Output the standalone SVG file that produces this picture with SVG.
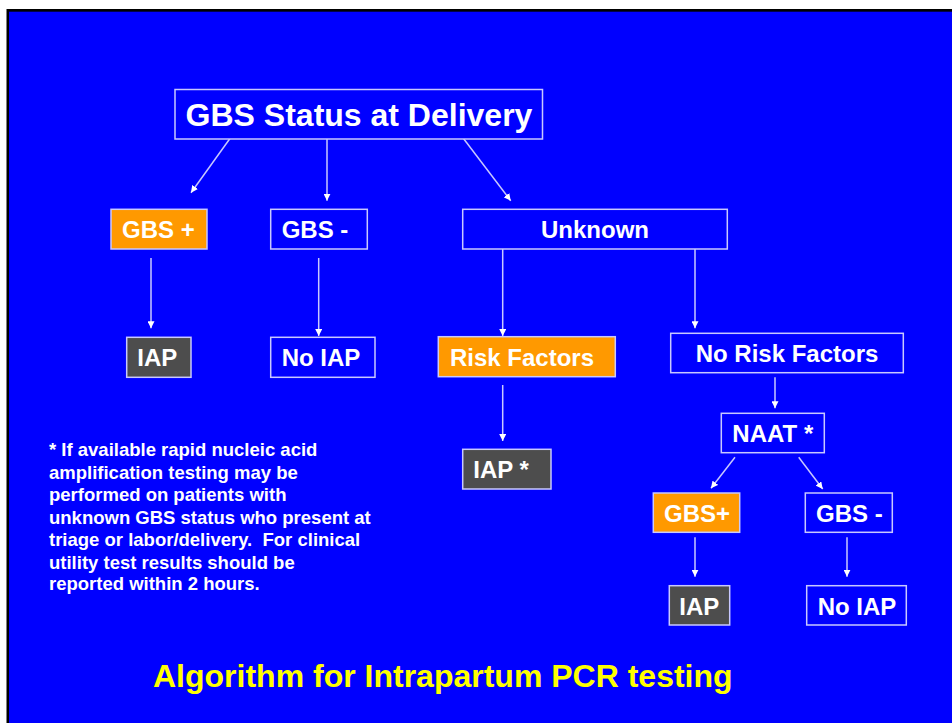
<svg xmlns="http://www.w3.org/2000/svg" width="952" height="723" viewBox="0 0 952 723">
<defs>
<style>
.bx{stroke:#C8C8FF;stroke-width:1.5}
.bl{fill:#0000FF}
.or{fill:#FF9900}
.gr{fill:#4D4D4D}
.t{font-family:"Liberation Sans",Arial,sans-serif;font-weight:bold;fill:#FFFFFF;font-size:24px}
.c{text-anchor:middle}
.fn{font-family:"Liberation Sans",Arial,sans-serif;font-weight:bold;fill:#FFFFFF;font-size:18.5px;white-space:pre}
.ln{stroke:#C8C8FF;stroke-width:1.5;fill:none;marker-end:url(#ah)}
</style>
<marker id="ah" viewBox="0 0 10 10" refX="10" refY="5" markerWidth="7" markerHeight="7" markerUnits="userSpaceOnUse" orient="auto">
<path d="M0,0 L10,5 L0,10 z" fill="#FFFFFF"/>
</marker>
</defs>
<rect x="0" y="0" width="952" height="723" fill="#FFFFFF"/>
<rect x="6.5" y="9" width="960" height="730" fill="#000000"/>
<rect x="9" y="11.7" width="960" height="730" fill="#0000FF"/>

<g id="connectors">
<line class="ln" x1="230.7" y1="137.5" x2="191" y2="192.7"/>
<line class="ln" x1="327" y1="137.5" x2="327" y2="200.7"/>
<line class="ln" x1="462.7" y1="137.5" x2="510.7" y2="200.7"/>
<line class="ln" x1="151" y1="258" x2="151" y2="328.3"/>
<line class="ln" x1="318.7" y1="258" x2="318.7" y2="336"/>
<line class="ln" x1="502.7" y1="249" x2="502.7" y2="336"/>
<line class="ln" x1="695" y1="249" x2="695" y2="328.3"/>
<line class="ln" x1="502.7" y1="385" x2="502.7" y2="441"/>
<line class="ln" x1="775" y1="377.3" x2="775" y2="408.3"/>
<line class="ln" x1="735" y1="457.3" x2="711" y2="488.3"/>
<line class="ln" x1="798.7" y1="457.3" x2="822.7" y2="489"/>
<line class="ln" x1="695" y1="537.3" x2="695" y2="576.7"/>
<line class="ln" x1="847" y1="537.3" x2="847" y2="576.7"/>
</g>

<g id="n-title">
<rect class="bx bl" x="175" y="89.5" width="367.5" height="49.5"/>
<text class="t c" x="359" y="125.7" style="font-size:32px">GBS Status at Delivery</text>
</g>
<g id="n-gbspos">
<rect class="bx or" x="111" y="209.3" width="96" height="39.7"/>
<text class="t" x="122" y="237.5">GBS +</text>
</g>
<g id="n-gbsneg">
<rect class="bx bl" x="270.7" y="209.3" width="96.6" height="39.7"/>
<text class="t" x="281.7" y="237.5">GBS -</text>
</g>
<g id="n-unknown">
<rect class="bx bl" x="462.7" y="209.3" width="264.6" height="39.7"/>
<text class="t c" x="595" y="237.5">Unknown</text>
</g>
<g id="n-iap1">
<rect class="bx gr" x="126.7" y="337.3" width="64.3" height="40"/>
<text class="t" x="137.3" y="366.3">IAP</text>
</g>
<g id="n-noiap1">
<rect class="bx bl" x="270.7" y="337.3" width="104.3" height="40"/>
<text class="t" x="281.7" y="366.3">No IAP</text>
</g>
<g id="n-risk">
<rect class="bx or" x="438.3" y="336.7" width="177" height="40"/>
<text class="t" x="450" y="365.5">Risk Factors</text>
</g>
<g id="n-norisk">
<rect class="bx bl" x="670.7" y="333.3" width="232.6" height="39.4"/>
<text class="t c" x="787" y="361.7">No Risk Factors</text>
</g>
<g id="n-iapstar">
<rect class="bx gr" x="462.7" y="449.3" width="88.3" height="39.7"/>
<text class="t" x="473.3" y="478">IAP *</text>
</g>
<g id="n-naat">
<rect class="bx bl" x="721.3" y="413.3" width="103" height="39.4"/>
<text class="t c" x="772.8" y="442">NAAT *</text>
</g>
<g id="n-gbspos2">
<rect class="bx or" x="653.3" y="493" width="86.4" height="39.3"/>
<text class="t" x="664" y="521.5">GBS+</text>
</g>
<g id="n-gbsneg2">
<rect class="bx bl" x="805.3" y="493" width="87" height="39.3"/>
<text class="t" x="816" y="521.5">GBS -</text>
</g>
<g id="n-iap2">
<rect class="bx gr" x="669.3" y="585.7" width="60.4" height="39.3"/>
<text class="t" x="679.3" y="614.5">IAP</text>
</g>
<g id="n-noiap2">
<rect class="bx bl" x="806.7" y="585.7" width="99.6" height="39.3"/>
<text class="t" x="817.7" y="614.5">No IAP</text>
</g>

<g id="footnote">
<text class="fn" x="49" y="456">* If available rapid nucleic acid</text>
<text class="fn" x="49" y="478.5">amplification testing may be</text>
<text class="fn" x="49" y="501">performed on patients with</text>
<text class="fn" x="49" y="523.5">unknown GBS status who present at</text>
<text class="fn" x="49" y="546" xml:space="preserve">triage or labor/delivery.  For clinical</text>
<text class="fn" x="49" y="568.5">utility test results should be</text>
<text class="fn" x="49" y="590">reported within 2 hours.</text>
</g>

<g id="caption">
<text x="153" y="687" style="font-family:'Liberation Sans',Arial,sans-serif;font-weight:bold;font-size:32px;fill:#FFFF00">Algorithm for Intrapartum PCR testing</text>
</g>
</svg>
